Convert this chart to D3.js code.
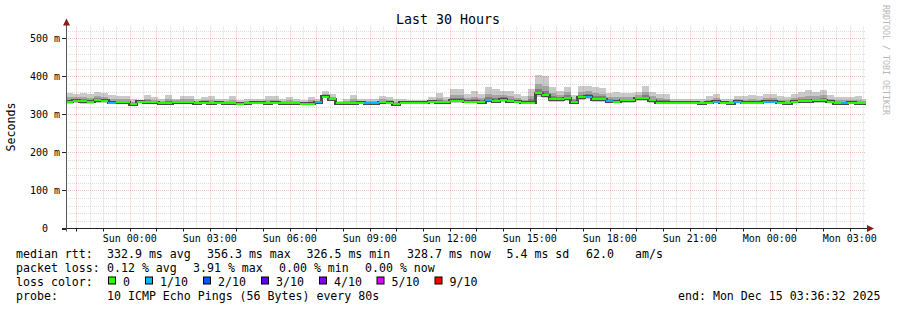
<!DOCTYPE html>
<html>
<head>
<meta charset="utf-8">
<script src="https://cdn.jsdelivr.net/npm/d3@7"></script>
<style>
  body { margin: 0; background: #fff; }
  text { font-family: "DejaVu Sans Mono", monospace; fill: #000; white-space: pre; }
</style>
</head>
<body>
<script>
// 16 minute bins (12 x 80s), starting Sat Dec 13 21:36 UTC
const rttMedian = [
  333,336,335,334,338,336,331,332,332,327, 333,332,332,330,330,332,332,332,330,331,
  330,331,330,330,328,330,331,331,330,331, 330,330,330,328,328,332,347,340,330,330,
  330,331,330,330,332,331,327,331,331,331, 331,333,332,332,336,336,333,333,332,338,
  335,339,335,333,331,331,356,351,340,340, 343,332,345,347,340,340,335,333,337,337,
  343,343,337,331,331,331,331,331,331,330, 331,334,331,330,334,331,331,331,334,334,
  331,330,333,335,335,337,337,333,330,330, 331,330,329
];
const rttMax = [
  357,355,357,354,359,357,351,348,348,342, 336,351,346,342,351,342,348,348,342,346,
  348,342,342,348,339,342,342,342,348,348, 342,346,342,339,346,340,362,355,336,342,
  350,342,342,342,348,345,342,342,339,339, 337,346,357,345,368,368,353,362,355,373,
  368,362,362,355,348,368,403,401,373,362, 373,351,374,375,372,371,357,359,357,357,
  359,374,359,355,354,342,342,342,342,342, 348,354,342,342,348,348,351,348,354,354,
  348,345,355,359,364,359,364,351,345,345, 346,348,342
];
const rttUpper = [
  345,346,346,344,348,346,341,340,340,334, 335,341,339,336,340,337,340,340,336,338,
  339,336,336,339,333,336,336,336,339,339, 336,338,336,333,337,336,354,347,333,336,
  340,336,336,336,340,338,334,336,335,335, 334,339,344,338,352,352,343,347,343,355,
  351,350,348,344,339,349,380,376,356,351, 358,341,359,361,356,355,346,346,347,347,
  351,358,348,343,342,336,336,336,336,336, 339,344,336,336,341,339,341,339,344,344,
  339,337,344,347,349,348,350,342,337,337, 338,339,335
];
const rttHigh = [
  339,341,340,339,343,341,336,336,336,331, 334,337,335,333,335,334,336,336,333,335,
  334,334,333,334,331,333,334,334,334,335, 333,334,333,331,332,334,351,344,332,333,
  335,334,333,333,336,335,331,334,333,333, 333,336,338,335,344,344,338,340,338,347,
  343,345,342,338,335,340,368,363,348,346, 350,337,352,354,348,348,341,339,342,342,
  347,351,342,337,337,334,334,334,334,333, 335,339,334,333,337,335,336,335,339,339,
  335,334,338,341,342,342,344,337,334,334, 335,334,332
];
const rttLow = [
  330,333,332,331,335,333,329,330,330,325, 331,330,330,328,328,330,330,330,328,329,
  328,329,328,328,326,328,329,329,328,329, 328,328,328,326,326,330,345,338,328,328,
  328,329,328,328,330,329,325,329,329,329, 329,331,330,330,334,334,331,331,330,335,
  333,336,333,331,329,329,352,347,337,337, 339,330,341,343,337,337,333,331,334,334,
  339,339,334,329,329,329,329,329,329,328, 329,331,329,328,331,329,329,329,331,331,
  329,328,331,333,333,334,334,331,328,328, 329,328,327
];
const rttMin = [
  327,329,328,328,330,329,327,328,328,324, 329,328,328,327,327,328,328,328,327,327,
  327,327,327,327,325,327,328,328,327,327, 327,327,327,325,325,329,343,335,327,327,
  327,327,327,327,328,327,324,327,327,327, 327,329,328,328,331,331,329,329,328,332,
  330,333,330,329,327,327,347,343,334,334, 336,327,338,340,334,334,330,329,331,331,
  336,336,331,327,327,327,327,327,327,327, 327,329,327,327,329,327,327,327,329,329,
  327,327,329,330,330,331,331,329,327,327, 327,327,326
];
const lossPings = [
  0,0,0,0,0,0,1,0,0,0, 0,0,0,0,0,0,0,0,0,0,
  0,0,0,0,0,0,0,0,0,0, 0,0,0,0,0,1,0,0,0,0,
  0,0,1,1,0,0,0,0,0,0, 0,0,0,0,0,0,0,0,0,1,
  0,0,0,0,0,0,0,0,0,0, 0,0,0,1,0,0,1,0,0,0,
  0,0,0,0,0,0,0,0,0,0, 0,1,0,0,1,0,0,0,1,1,
  0,0,0,0,0,0,0,0,0,1, 0,0,0
];

const lossLevels = [0, 1, 2, 3, 4, 5, 9];
const lossLabels = ["0", "1/10", "2/10", "3/10", "4/10", "5/10", "9/10"];
const lossColors = ["#26ff00", "#00b8ff", "#0059ff", "#5e00ff", "#7e00ff", "#dd00ff", "#ff0000"];

const yTicks = [0, 100, 200, 300, 400, 500];
const medianStats = ["332.9 ms avg", "356.3 ms max", "326.5 ms min", "328.7 ms now", "5.4 ms sd", "62.0", "am/s"];
const lossStats = ["0.12 % avg", "3.91 % max", "0.00 % min", "0.00 % now"];
const probeText = "10 ICMP Echo Pings (56 Bytes) every 80s";
const endText = "end: Mon Dec 15 03:36:32 2025";

const endTime = new Date(Date.UTC(2025, 11, 15, 3, 36, 32));
const startTime = new Date(endTime - 30 * 3600 * 1000);
const binStart = Date.UTC(2025, 11, 13, 21, 36, 0);
const binMs = 960 * 1000;

const W = 897, H = 310;
const plotL = 66, plotR = 866, plotT = 28.5, plotB = 228.5;

const svg = d3.select("body").append("svg")
  .attr("width", W)
  .attr("height", H);

const x = d3.scaleUtc().domain([startTime, endTime]).range([plotL, plotR]);
const y = d3.scaleLinear().domain([0, 526.3]).range([plotB, plotT]);

const clampX = v => Math.max(plotL, Math.min(plotR, v));

const bins = rttMedian.map((m, i) => {
  const t0 = new Date(binStart + i * binMs);
  const t1 = new Date(binStart + (i + 1) * binMs);
  return { i, x0: clampX(x(t0)), x1: clampX(x(t1)) };
});

// smoke
const bands = [
  { lo: rttMin, hi: rttMax, c: "#cacaca" },
  { lo: rttLow, hi: rttUpper, c: "#a4a4a4" },
  { lo: rttLow, hi: rttHigh, c: "#7e7e7e" }
];
bands.forEach(b => {
  svg.append("g").selectAll("rect")
    .data(bins)
    .enter()
    .append("rect")
    .attr("x", d => d.x0)
    .attr("width", d => d.x1 - d.x0)
    .attr("y", d => y(b.hi[d.i]))
    .attr("height", d => y(b.lo[d.i]) - y(b.hi[d.i]))
    .attr("fill", b.c)
    .attr("shape-rendering", "crispEdges");
});

// median
const stepPts = bins.map(d => [d.x0, y(rttMedian[d.i])]);
stepPts.push([bins[bins.length - 1].x1, y(rttMedian[rttMedian.length - 1])]);
svg.append("path")
  .attr("d", d3.line().curve(d3.curveStepAfter)(stepPts))
  .attr("fill", "none")
  .attr("stroke", "#4a4a4a")
  .attr("stroke-width", 3)
  .attr("shape-rendering", "crispEdges");

const lossColor = n => {
  let k = 0;
  lossLevels.forEach((l, j) => { if (n >= l) k = j; });
  return lossColors[k];
};
svg.append("g").selectAll("line")
  .data(bins)
  .enter()
  .append("line")
  .attr("x1", d => d.x0)
  .attr("x2", d => d.x1)
  .attr("y1", d => y(rttMedian[d.i]))
  .attr("y2", d => y(rttMedian[d.i]))
  .attr("stroke", d => lossColor(lossPings[d.i]))
  .attr("stroke-width", 2)
  .attr("shape-rendering", "crispEdges");

// grid (drawn over the graph, like rrdtool)
const minorCol = "rgba(150,150,150,0.33)";
const majorCol = "rgba(255,0,0,0.25)";
const grid = svg.append("g");
const minorY = d3.range(20, 526, 20).filter(v => v % 100 !== 0);
grid.selectAll(".hy").data(minorY).enter().append("line")
  .attr("x1", plotL).attr("x2", plotR)
  .attr("y1", d => Math.round(y(d)) + 0.5).attr("y2", d => Math.round(y(d)) + 0.5)
  .attr("stroke", minorCol).attr("stroke-dasharray", "1,1");
grid.selectAll(".my").data(yTicks.slice(1)).enter().append("line")
  .attr("x1", plotL).attr("x2", plotR)
  .attr("y1", d => Math.round(y(d)) + 0.5).attr("y2", d => Math.round(y(d)) + 0.5)
  .attr("stroke", majorCol).attr("stroke-dasharray", "1,1");

const halfHours = d3.utcMinute.every(30).range(startTime, endTime).filter(t => t.getUTCMinutes() === 30);
const hours = d3.utcHour.range(startTime, endTime);
grid.selectAll(".hx").data(halfHours).enter().append("line")
  .attr("y1", plotT - 2).attr("y2", plotB)
  .attr("x1", d => Math.round(x(d)) + 0.5).attr("x2", d => Math.round(x(d)) + 0.5)
  .attr("stroke", minorCol).attr("stroke-dasharray", "1,1");
grid.selectAll(".mx").data(hours).enter().append("line")
  .attr("y1", plotT - 2).attr("y2", plotB)
  .attr("x1", d => Math.round(x(d)) + 0.5).attr("x2", d => Math.round(x(d)) + 0.5)
  .attr("stroke", majorCol).attr("stroke-dasharray", "1,1");

// axes
const axisCol = "#222";
svg.append("line").attr("x1", plotL - 4).attr("x2", plotR + 2)
  .attr("y1", plotB).attr("y2", plotB).attr("stroke", axisCol);
svg.append("line").attr("x1", plotL + 0.5).attr("x2", plotL + 0.5)
  .attr("y1", plotB + 3).attr("y2", plotT - 4).attr("stroke", "#555");
svg.append("path").attr("d", `M${plotR + 1},${plotB - 3.5}L${plotR + 8},${plotB}L${plotR + 1},${plotB + 3.5}Z`)
  .attr("fill", "#8b1a1a");
svg.append("path").attr("d", `M${plotL + 0.5 - 3.5},${plotT - 3}L${plotL + 0.5},${plotT - 10}L${plotL + 0.5 + 3.5},${plotT - 3}Z`)
  .attr("fill", "#8b1a1a");

svg.append("g").selectAll("line").data(hours).enter().append("line")
  .attr("x1", d => Math.round(x(d)) + 0.5).attr("x2", d => Math.round(x(d)) + 0.5)
  .attr("y1", plotB).attr("y2", plotB + 3)
  .attr("stroke", axisCol);
svg.append("g").selectAll("line").data(yTicks).enter().append("line")
  .attr("x1", plotL - 4).attr("x2", plotL)
  .attr("y1", d => Math.round(y(d)) + 0.5).attr("y2", d => Math.round(y(d)) + 0.5)
  .attr("stroke", axisCol);

// tick labels
const fmtX = d3.utcFormat("%a %H:%M");
const labelHours = d3.utcHour.every(3).range(startTime, endTime);
svg.append("g").selectAll("text").data(labelHours).enter().append("text")
  .attr("x", d => x(d)).attr("y", 242)
  .attr("text-anchor", "middle")
  .style("font-size", "10px")
  .text(d => fmtX(d));

svg.append("g").selectAll("text").data(yTicks).enter().append("text")
  .attr("x", 60).attr("y", d => y(d) + 3.5)
  .attr("text-anchor", "end")
  .style("font-size", "10px")
  .text(d => d === 0 ? "0  " : d + " m");

// titles
svg.append("text").attr("x", 448).attr("y", 24).attr("text-anchor", "middle")
  .style("font-size", "13.3px").text("Last 30 Hours");
svg.append("text").attr("transform", "translate(15,127) rotate(-90)").attr("text-anchor", "middle")
  .style("font-size", "11.6px").text("Seconds");
svg.append("text").attr("transform", "translate(883,5) rotate(90)")
  .style("font-size", "8.3px").style("fill", "#b8b8b8").text("RRDTOOL / TOBI OETIKER");

// legend
const row = [257.5, 271.5, 285.5, 299.5];
const leg = svg.append("g").style("font-size", "11.6px");
leg.append("text").attr("x", 16).attr("y", row[0]).text("median rtt:");
const medX = [107, 207, 306.5, 407, 506.5, 586, 635];
medianStats.forEach((s, i) => leg.append("text").attr("x", medX[i]).attr("y", row[0]).text(s));

leg.append("text").attr("x", 16).attr("y", row[1]).text("packet loss:");
const lossX = [107, 193, 279, 365];
lossStats.forEach((s, i) => leg.append("text").attr("x", lossX[i]).attr("y", row[1]).text(s));

leg.append("text").attr("x", 16).attr("y", row[2]).text("loss color:");
const swX = [108.5, 145.5, 203.5, 261.5, 319.5, 377, 435];
leg.selectAll("rect").data(lossColors).enter().append("rect")
  .attr("x", (d, i) => swX[i]).attr("y", row[2] - 8.5)
  .attr("width", 7).attr("height", 7)
  .attr("fill", d => d).attr("stroke", "#000");
lossLabels.forEach((s, i) => leg.append("text").attr("x", swX[i] + 14.5).attr("y", row[2]).text(s));

leg.append("text").attr("x", 16).attr("y", row[3]).text("probe:");
leg.append("text").attr("x", 107).attr("y", row[3]).text(probeText);
leg.append("text").attr("x", 678).attr("y", row[3]).text(endText);
</script>
</body>
</html>
